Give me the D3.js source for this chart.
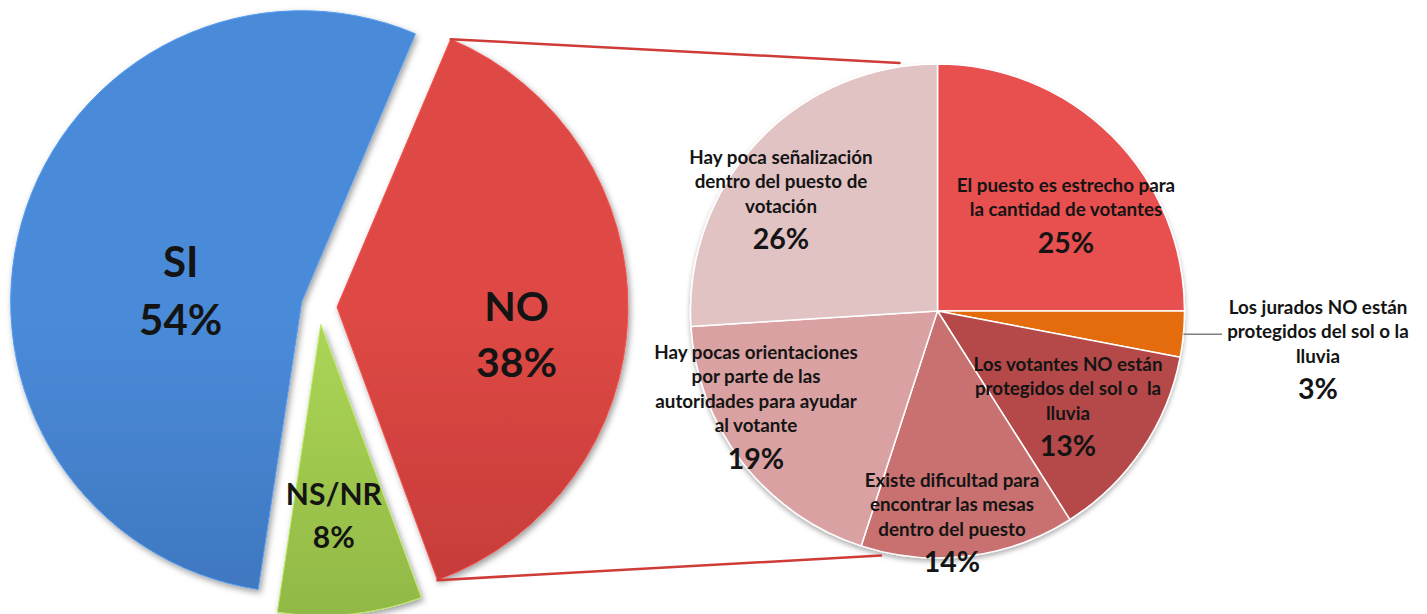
<!DOCTYPE html>
<html>
<head>
<meta charset="utf-8">
<script src="https://cdn.jsdelivr.net/npm/d3@7"></script>
<style>
  html, body { margin: 0; padding: 0; background: #ffffff; }
  svg { display: block; font-family: Lato, "Open Sans", sans-serif; font-weight: 700; }
  svg text { white-space: pre; }
</style>
</head>
<body>
<svg id="chart" width="1427" height="614"></svg>
<script>
// ---- data ----
const mainCategories = ["SI", "NO", "NS/NR"];
const mainValues = [54, 38, 8];
const splitCategory = "NO";

const detailLabels = [
  ["El puesto es estrecho para", "la cantidad de votantes"],
  ["Los jurados NO están", "protegidos del sol o la", "lluvia"],
  ["Los votantes NO están", "protegidos del sol o  la", "lluvia"],
  ["Existe dificultad para", "encontrar las mesas", "dentro del puesto"],
  ["Hay pocas orientaciones", "por parte de las", "autoridades para ayudar", "al votante"],
  ["Hay poca señalización", "dentro del puesto de", "votación"]
];
const detailValues = [25, 3, 13, 14, 19, 26];

// ---- layout ----
const width = 1427, height = 614;
const mainPie = { cx: 319, cy: 306.6, r: 291, explode: 18, tiltDeg: 1.4 };
const detailPie = { cx: 937.5, cy: 311, r: 247 };

const mainGradients = {
  "SI":    ["#4a8bd9", "#3462a5"],
  "NO":    ["#de4844", "#a82f2d"],
  "NS/NR": ["#aad455", "#769a36"]
};
const detailColors = ["#e84f50", "#e46c0a", "#b54a48", "#c87170", "#d9a1a1", "#e2c3c4"];

// label block centres, relative to each slice apex (main) or pie centre (detail)
const mainLabelPos = {
  "SI":    { dx: -121, dy: -11, gap: 58, size: 42 },
  "NO":    { dx: 179.5, dy: 27, gap: 56, size: 41 },
  "NS/NR": { dx: 13, dy: 191, gap: 43, size: 30 }
};
const detailLabelPos = [
  { dx: 128.5, y0: -126 },
  { dx: 380.5, y0: -4 },
  { dx: 130.5, y0: 53 },
  { dx: 14.5,  y0: 169 },
  { dx: -181.5, y0: 41 },
  { dx: -156.5, y0: -154 }
];
const lineFont = 18.8, lineGap = 24.5, pctFont = 28.5, pctGap = 33;
const textColor = "#141414";

const deg = Math.PI / 180;
const svg = d3.select("#chart");
const defs = svg.append("defs");

// soft shadows
const sh = defs.append("filter").attr("id", "shadow")
  .attr("x", "-10%").attr("y", "-10%").attr("width", "130%").attr("height", "130%");
sh.append("feDropShadow").attr("dx", 2).attr("dy", 3).attr("stdDeviation", 3)
  .attr("flood-color", "#000").attr("flood-opacity", 0.38);
const sh2 = defs.append("filter").attr("id", "shadow2")
  .attr("x", "-10%").attr("y", "-10%").attr("width", "130%").attr("height", "130%");
sh2.append("feDropShadow").attr("dx", 0).attr("dy", 3).attr("stdDeviation", 2.5)
  .attr("flood-color", "#000").attr("flood-opacity", 0.3);

mainCategories.forEach((c, i) => {
  const g = defs.append("linearGradient").attr("id", "grad" + i)
    .attr("gradientUnits", "userSpaceOnUse")
    .attr("x1", 0).attr("y1", mainPie.cy - mainPie.r).attr("x2", 0).attr("y2", mainPie.cy + mainPie.r);
  g.append("stop").attr("offset", "0%").attr("stop-color", mainGradients[c][0]);
  g.append("stop").attr("offset", "100%").attr("stop-color", mainGradients[c][1]);
});

// ---- main pie: split slice centred pointing right ----
const total = d3.sum(mainValues);
const splitIdx = mainCategories.indexOf(splitCategory);
const before = d3.sum(mainValues.slice(0, splitIdx)) / total;
const splitFrac = mainValues[splitIdx] / total;
const start = (90 + mainPie.tiltDeg) * deg - (before + splitFrac / 2) * 2 * Math.PI;

const mainArcs = d3.pie().sort(null).value(d => d)
  .startAngle(start).endAngle(start + 2 * Math.PI)(mainValues);
const mainArc = d3.arc().innerRadius(0).outerRadius(mainPie.r);

const apex = a => {
  const m = (a.startAngle + a.endAngle) / 2;
  return [mainPie.cx + mainPie.explode * Math.sin(m), mainPie.cy - mainPie.explode * Math.cos(m)];
};

const gMain = svg.append("g");
mainArcs.forEach((a, i) => {
  const [ax, ay] = apex(a);
  gMain.append("path")
    .attr("d", mainArc(a))
    .attr("transform", `translate(${ax},${ay})`)
    .attr("fill", `url(#grad${i})`)
    .attr("stroke", d3.color(mainGradients[mainCategories[i]][0]).brighter(0.3))
    .attr("stroke-width", 1)
    .attr("filter", "url(#shadow)");
});

// ---- connector lines from split slice to detail pie ----
const sA = mainArcs[splitIdx];
const [sx, sy] = apex(sA);
const cornerTop = [sx + mainPie.r * Math.sin(sA.startAngle), sy - mainPie.r * Math.cos(sA.startAngle)];
const cornerBot = [sx + mainPie.r * Math.sin(sA.endAngle), sy - mainPie.r * Math.cos(sA.endAngle)];
const connAngles = [-8.7 * deg, 193 * deg];
const connR = detailPie.r + 4;
const endTop = [detailPie.cx + connR * Math.sin(connAngles[0]), detailPie.cy - connR * Math.cos(connAngles[0])];
const endBot = [detailPie.cx + connR * Math.sin(connAngles[1]), detailPie.cy - connR * Math.cos(connAngles[1])];

// ---- detail pie ----
const detailArcs = d3.pie().sort(null).value(d => d)(detailValues);
const detailArc = d3.arc().innerRadius(0).outerRadius(detailPie.r);
const gDetail = svg.append("g").attr("transform", `translate(${detailPie.cx},${detailPie.cy})`);
const gSlices = gDetail.append("g").attr("filter", "url(#shadow2)");
gSlices.selectAll("path").data(detailArcs).join("path")
  .attr("d", detailArc)
  .attr("fill", (d, i) => detailColors[i])
  .attr("stroke", "#ffffff")
  .attr("stroke-width", 1.5)
  .attr("stroke-linejoin", "round");

svg.append("g").selectAll("line").data([[cornerTop, endTop], [cornerBot, endBot]]).join("line")
  .attr("x1", d => d[0][0]).attr("y1", d => d[0][1])
  .attr("x2", d => d[1][0]).attr("y2", d => d[1][1])
  .attr("stroke", "#cf3b37").attr("stroke-width", 2.5).attr("stroke-linecap", "round");

// leader for the small slice, labelled outside
const small = detailArcs[1];
const mA = (small.startAngle + small.endAngle) / 2;
const lx0 = detailPie.r * Math.sin(mA), ly0 = -detailPie.r * Math.cos(mA);
gDetail.append("path")
  .attr("d", `M${lx0},${ly0} L${detailLabelPos[1].dx - 96},${ly0}`)
  .attr("fill", "none").attr("stroke", "#7f7f7f").attr("stroke-width", 1.3);

// ---- main labels ----
mainArcs.forEach((a, i) => {
  const c = mainCategories[i];
  const p = mainLabelPos[c];
  const [ax, ay] = apex(a);
  const x = ax + p.dx, yc = ay + p.dy;
  const g = svg.append("g").attr("fill", textColor).attr("text-anchor", "middle");
  g.append("text").attr("x", x).attr("y", yc - p.gap / 2 + 0.36 * p.size)
    .attr("font-size", p.size).text(c);
  g.append("text").attr("x", x).attr("y", yc + p.gap / 2 + 0.36 * p.size)
    .attr("font-size", p.size).text(mainValues[i] + "%");
});

// ---- detail labels ----
detailArcs.forEach((a, i) => {
  const p = detailLabelPos[i];
  const g = gDetail.append("g").attr("fill", textColor).attr("text-anchor", "middle");
  const lines = detailLabels[i];
  lines.forEach((t, k) => {
    g.append("text").attr("x", p.dx).attr("y", p.y0 + k * lineGap + 0.36 * lineFont)
      .attr("font-size", lineFont).text(t);
  });
  const last = p.y0 + (lines.length - 1) * lineGap;
  g.append("text").attr("x", p.dx).attr("y", last + pctGap + 0.36 * pctFont)
    .attr("font-size", pctFont).text(detailValues[i] + "%");
});
</script>
</body>
</html>
